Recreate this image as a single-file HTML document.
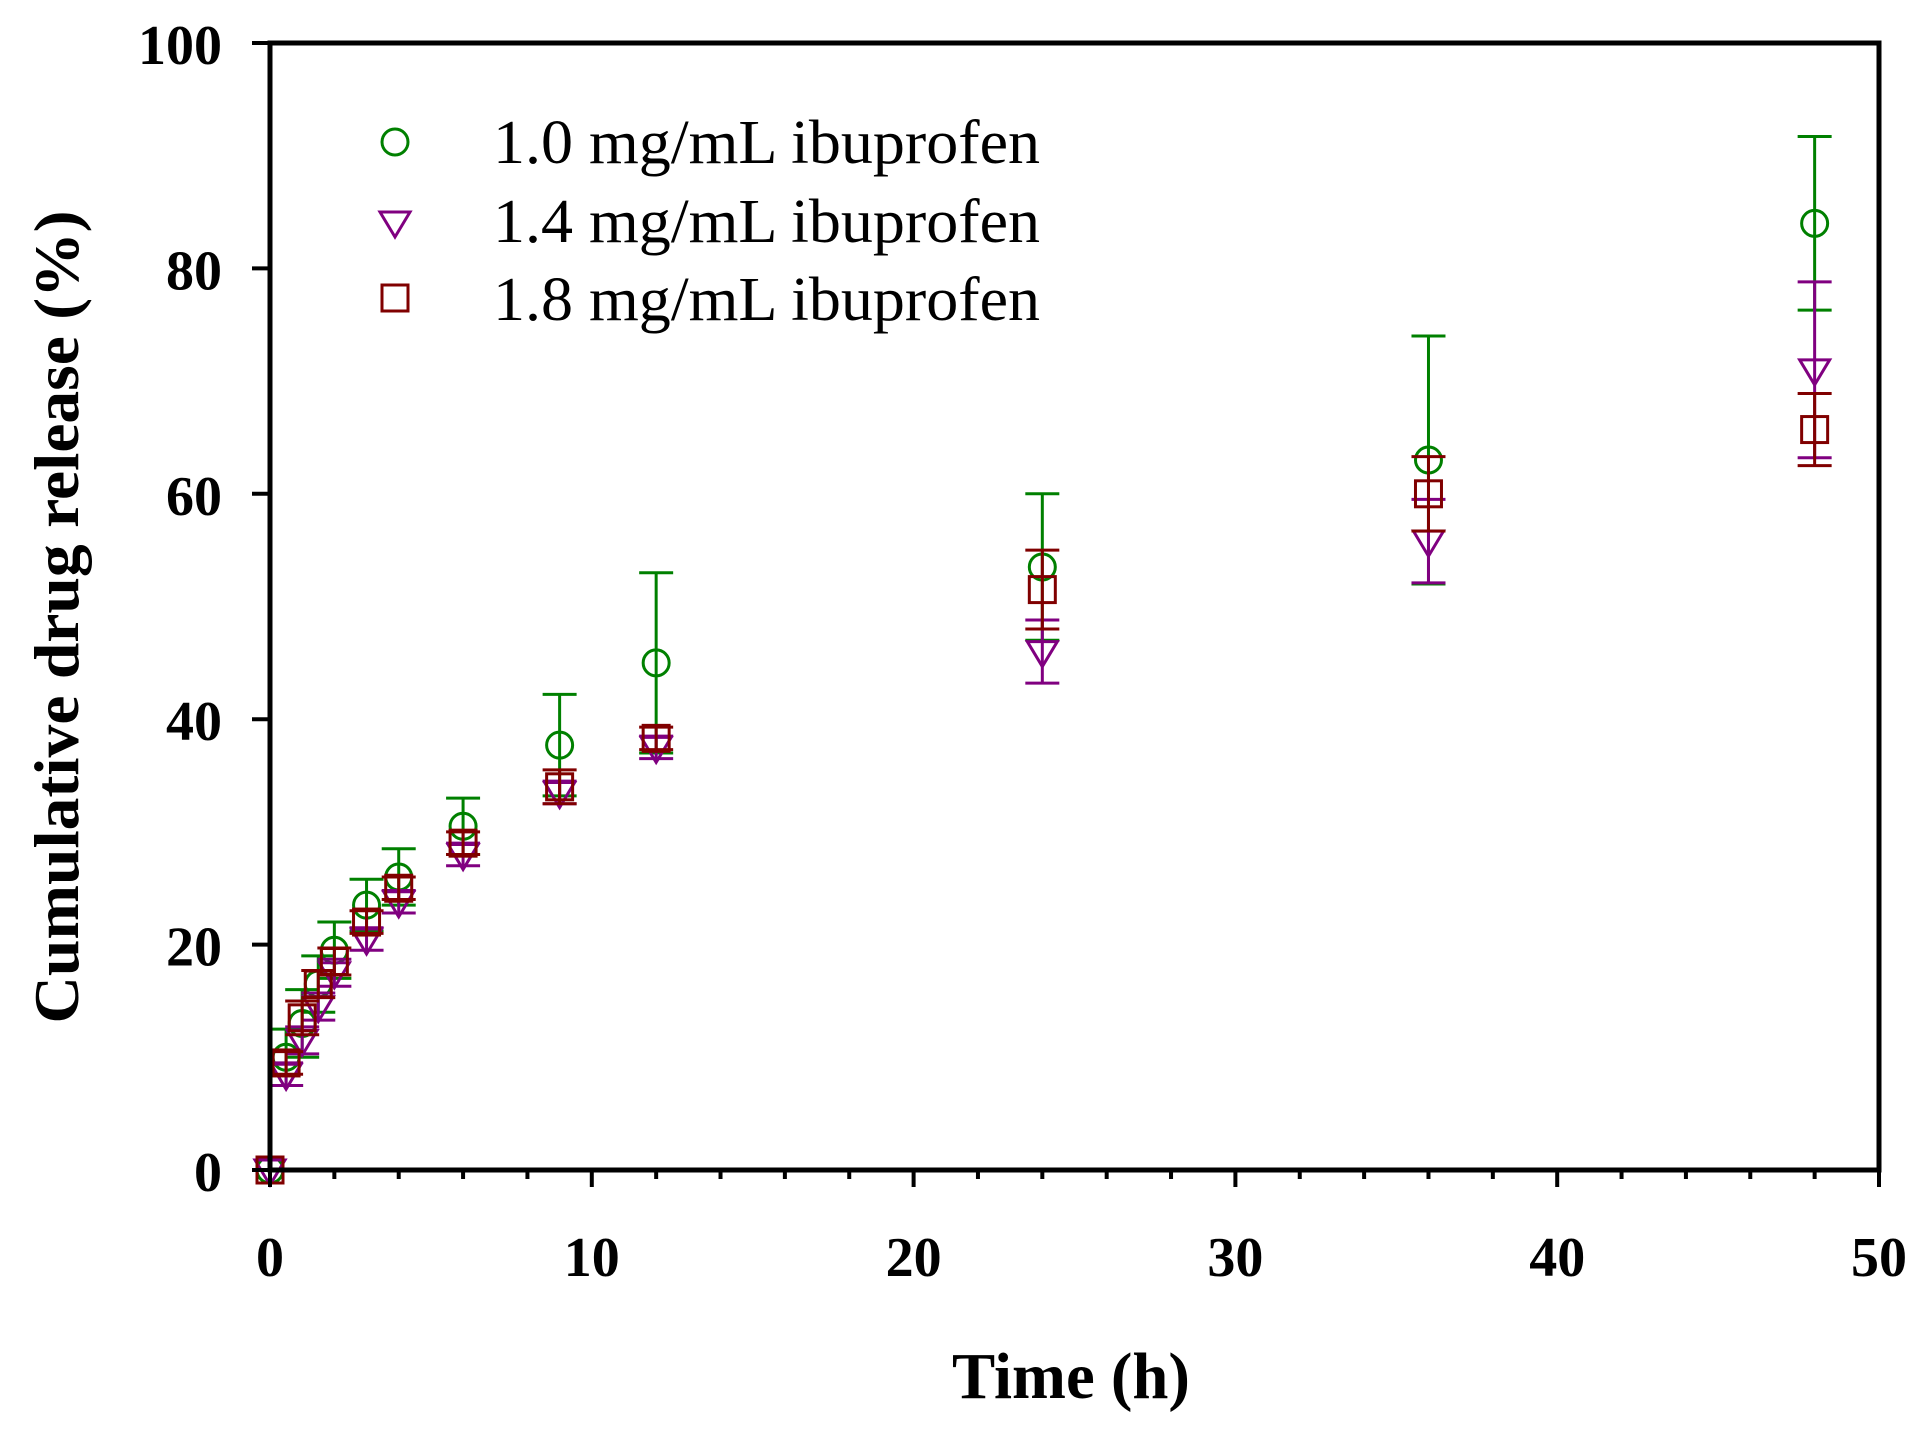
<!DOCTYPE html>
<html><head><meta charset="utf-8"><style>html,body{margin:0;padding:0;background:#fff}svg{display:block}</style></head>
<body>
<svg width="1931" height="1430" viewBox="0 0 1931 1430" xmlns="http://www.w3.org/2000/svg" font-family="'Liberation Serif', serif">
<rect width="1931" height="1430" fill="#fff"/>
<g id="data"></g>
<rect x="270" y="43" width="1609" height="1127" fill="none" stroke="#000" stroke-width="5"/>
<g stroke="#000" stroke-width="4" id="ticks"></g>
<g font-weight="bold" font-size="56" fill="#000" id="labels"></g>
<text x="952" y="1398" font-size="66" font-weight="bold" textLength="238" lengthAdjust="spacingAndGlyphs">Time (h)</text>
<text transform="translate(78,617) rotate(-90)" text-anchor="middle" font-size="64" font-weight="bold" textLength="813" lengthAdjust="spacingAndGlyphs">Cumulative drug release (%)</text>
<circle cx="395" cy="142" r="13" fill="none" stroke="#008000" stroke-width="3"/>
<polygon points="380,212 410,212 395,237" fill="none" stroke="#800080" stroke-width="3"/>
<rect x="382" y="285" width="26" height="26" fill="none" stroke="#800000" stroke-width="3"/>
<g font-size="62" fill="#000">
<text x="493" y="163" textLength="547" lengthAdjust="spacingAndGlyphs">1.0 mg/mL ibuprofen</text>
<text x="493" y="242" textLength="547" lengthAdjust="spacingAndGlyphs">1.4 mg/mL ibuprofen</text>
<text x="493" y="320" textLength="547" lengthAdjust="spacingAndGlyphs">1.8 mg/mL ibuprofen</text>
</g>
<script>
const X=t=>270+t*32.18, Y=v=>1170-v*11.27, NS="http://www.w3.org/2000/svg";
function el(p,n,a,txt){const e=document.createElementNS(NS,n);for(const k in a)e.setAttribute(k,a[k]);if(txt!==undefined)e.textContent=txt;p.appendChild(e);return e;}
const tk=document.getElementById('ticks'), lb=document.getElementById('labels');
for(let t=0;t<=50;t+=2){const maj=t%10==0;el(tk,'line',{x1:X(t),x2:X(t),y1:1170,y2:maj?1187:1179});}
for(let t=0;t<=50;t+=10)el(lb,'text',{x:X(t),y:1276,'text-anchor':'middle'},t);
for(let v=0;v<=100;v+=20){el(tk,'line',{x1:252,x2:270,y1:Y(v),y2:Y(v)});el(lb,'text',{x:222,y:Y(v)+21,'text-anchor':'end'},v);}
const T=[0,0.5,1,1.5,2,3,4,6,9,12,24,36,48];
const S=[
 {c:'#008000',m:'o',v:[0,10,13,16.5,19.5,23.5,26,30.5,37.7,45,53.5,63,84],e:[0,2.5,3,2.5,2.5,2.3,2.5,2.5,4.5,8,6.5,11,7.7]},
 {c:'#800080',m:'v',v:[0,8.5,11.5,14.5,17.5,20.5,23.8,28,33.5,37.5,46,55.8,71],e:[0,1,1.2,1.2,1.2,1,1,1,1,1,2.8,3.7,7.8]},
 {c:'#800000',m:'s',v:[0,9.5,13.5,16.5,18.5,22,25,29,34,38.3,51.5,60,65.7],e:[0,1,1.5,1.2,1.2,1,1,1,1.5,1,3.5,3.3,3.2]}];
const g=document.getElementById('data');
for(const s of S){const a={stroke:s.c,'stroke-width':3,fill:'none'};
 T.forEach((t,i)=>{const x=X(t),y=Y(s.v[i]),e=s.e[i];
  if(e>0){const y1=Y(s.v[i]+e),y2=Y(s.v[i]-e);
   el(g,'line',{...a,x1:x,x2:x,y1:y1,y2:y2});
   el(g,'line',{...a,x1:x-17,x2:x+17,y1:y1,y2:y1});
   el(g,'line',{...a,x1:x-17,x2:x+17,y1:y2,y2:y2});}
  if(s.m=='o')el(g,'circle',{...a,cx:x,cy:y,r:13});
  else if(s.m=='v')el(g,'polygon',{...a,points:`${x-15},${y-10} ${x+15},${y-10} ${x},${y+15}`});
  else el(g,'rect',{...a,x:x-13,y:y-13,width:26,height:26});
 });}
</script>
</svg>
</body></html>
